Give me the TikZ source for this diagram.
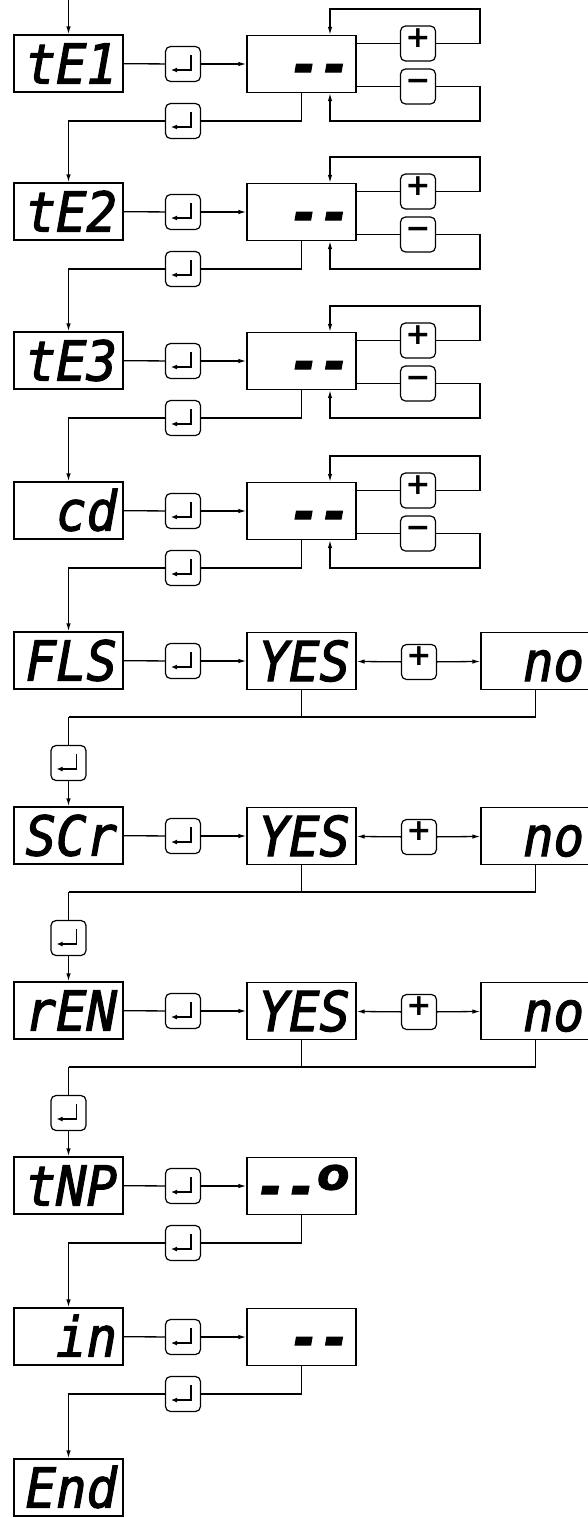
\documentclass[tikz,border=0pt]{standalone}
\usepackage{fontspec}
\usepackage{graphicx}
\usetikzlibrary{arrows.meta,calc}
\newfontfamily\segfont[FakeStretch=0.92,FakeBold=2]{DejaVu Sans Mono}
\newfontfamily\keyfont{DejaVu Sans}
\tikzset{
  ln/.style={line width=1.3pt},
  arr/.style={-{Latex[length=8pt,width=4.5pt]}},
  disp/.style={draw,line width=1.3pt,minimum width=109pt,minimum height=57pt,inner sep=0pt,
    text width=97pt,align=right,text height=40pt,text depth=0pt,
    font=\fontsize{55}{55}\segfont\itshape},
  enterbtn/.style={draw,line width=1.2pt,rounded corners=5pt,minimum size=35pt,inner sep=0pt,fill=white,
    path picture={\draw[line width=1.2pt,sharp corners,-{Latex[length=6pt,width=5pt]}]
      ([shift={(8pt,9pt)}]path picture bounding box.center) -- ++(0pt,-15pt) -- ++(-20pt,0pt);}},
  keybtn/.style={draw,line width=1.2pt,rounded corners=5pt,minimum size=35pt,inner sep=0pt,fill=white,
    font=\fontsize{30}{30}\keyfont\bfseries,text height=0.7em,text depth=0pt},
}
\begin{document}
\begin{tikzpicture}[x=1pt,y=-1pt]
\useasboundingbox (0,0) rectangle (587,1518);
\coordinate (ix) at (330,0);
% label displays
\foreach \i/\T/\t in {1/35/tE1,2/183/tE2,3/332/tE3,4/482/cd,5/632/FLS,6/807/SCr,7/982/rEN,8/1157/tNP,9/1308/in,10/1459/End}
  \node[disp] (L\i) at (68.5,\T+28.5) {\t};
% enter buttons next to labels
\foreach \i/\T in {1/35,2/183,3/332,4/482,5/632,6/807,7/982,8/1157,9/1308}{
  \node[enterbtn] (E\i) at (183,\T+29) {};
  \draw[ln] (L\i) -- (E\i);
}
% value boxes with +/- loops
\foreach \i/\T in {1/35,2/183,3/332,4/482}{
  \node[disp] (V\i) at (301.5,\T+29) {\bfseries --};
  \node[keybtn] (P\i) at (418,\T+8.5) {+};
  \node[keybtn] (M\i) at (418,\T+51.5) {−};
  \coordinate (pr\i) at (480,\T-26);
  \coordinate (mr\i) at (480,\T+86);
  \draw[ln,arr] (E\i) -- (V\i);
  \draw[ln] (V\i.east |- P\i) -- (P\i);
  \draw[ln,arr] (P\i) -| (pr\i) -| (V\i.north -| ix);
  \draw[ln] (V\i.east |- M\i) -- (M\i);
  \draw[ln,arr] (M\i) -| (mr\i) -| (V\i.south -| ix);
}
\node[disp] (V8) at (301.5,1157+29) {\bfseries --\raisebox{0.3em}{\scalebox{1.1}[0.8]{o}}};
\node[disp] (V9) at (301.5,1308+29) {\bfseries --};
\draw[ln,arr] (E8) -- (V8);
\draw[ln,arr] (E9) -- (V9);
% return paths
\foreach \i/\T in {1/35,2/183,3/332,4/482,8/1157,9/1308}{
  \pgfmathtruncatemacro\nx{\i+1}
  \node[enterbtn] (RE\i) at (183,\T+86) {};
  \draw[ln] (V\i) |- (RE\i);
  \draw[ln,arr] (RE\i) -| (L\nx);
}
% YES / no choices
\foreach \i/\T in {5/632,6/807,7/982}{
  \pgfmathtruncatemacro\nx{\i+1}
  \node[disp] (Y\i) at (301.5,\T+29) {YES};
  \node[disp] (N\i) at (535.5,\T+29) {no};
  \node[keybtn] (P\i) at (419,\T+30) {+};
  \draw[ln,arr] (E\i) -- (Y\i);
  \draw[ln,arr] (P\i) -- (Y\i);
  \draw[ln,arr] (P\i) -- (N\i);
  \coordinate (C\i) at (68.5,\T+85);
  \draw[ln] (Y\i) -- (Y\i.south |- C\i);
  \draw[ln] (N\i) |- (C\i);
  \node[enterbtn] (D\i) at (68.5,\T+131) {};
  \draw[ln] (C\i) -- (D\i);
  \draw[ln,arr] (D\i) -- (L\nx);
}
% entry
\coordinate (start) at (68.5,0);
\draw[ln,arr] (start) -- (L1);
\end{tikzpicture}
\end{document}
